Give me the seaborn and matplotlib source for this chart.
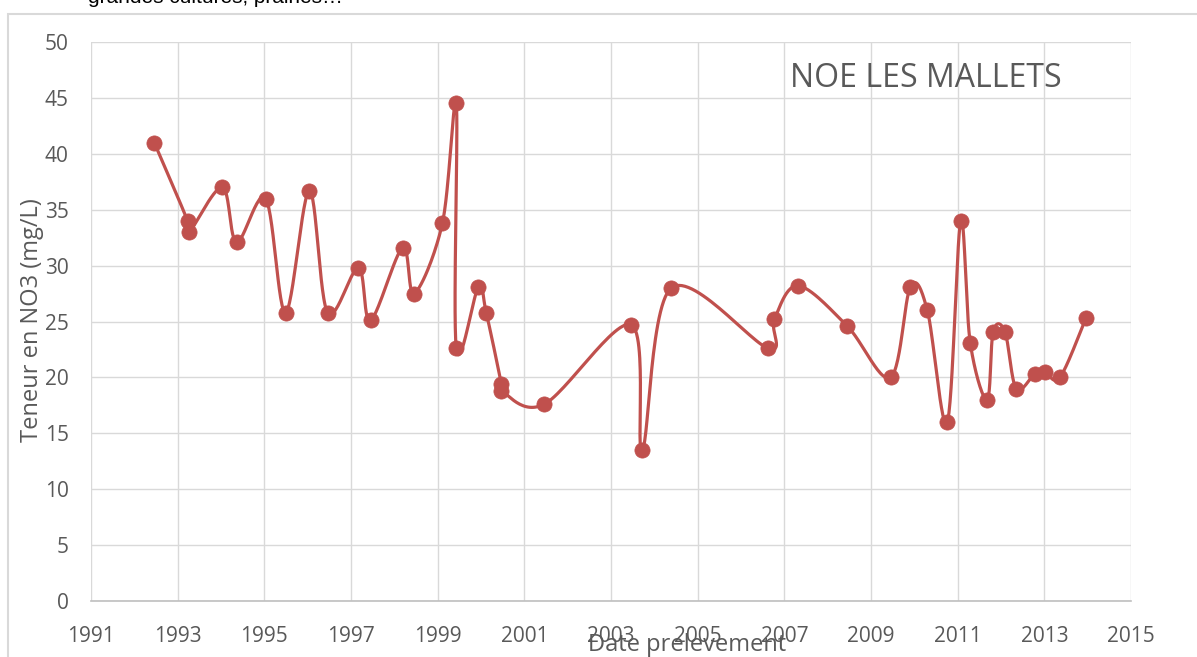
import numpy as np
import pandas as pd
import matplotlib
matplotlib.use('Agg')
import matplotlib.pyplot as plt
import seaborn as sns
from matplotlib.patches import Rectangle

# sampling dates (decimal years) and nitrate levels
dates = [1992.46, 1993.23, 1993.27, 1994.03, 1994.36, 1995.03, 1995.49, 1996.04,
         1996.46, 1997.17, 1997.45, 1998.19, 1998.46, 1999.11, 1999.43, 1999.43,
         1999.94, 2000.12, 2000.47, 2000.47, 2001.46, 2003.47, 2003.72, 2004.39,
         2006.63, 2006.77, 2007.32, 2008.45, 2009.45, 2009.91, 2010.30, 2010.76,
         2011.07, 2011.29, 2011.68, 2011.82, 2012.09, 2012.35, 2012.78, 2013.01,
         2013.36, 2013.96]
no3 = [41.0, 34.0, 33.0, 37.0, 32.1, 36.0, 25.8, 36.7,
       25.8, 29.8, 25.1, 31.6, 27.5, 33.8, 44.5, 22.6,
       28.1, 25.8, 19.4, 18.8, 17.6, 24.7, 13.5, 28.0,
       22.6, 25.2, 28.2, 24.6, 20.0, 28.1, 26.0, 16.0,
       34.0, 23.1, 18.0, 24.1, 24.1, 19.0, 20.3, 20.5,
       20.0, 25.3]
x_ticks = list(range(1991, 2016, 2))
y_ticks = list(range(0, 51, 5))

df = pd.DataFrame({'date': dates, 'no3': no3})

RED = '#c0504d'
GREY = '#595959'


def smooth_line(xs, ys, sx, sy, n=30):
    # excel-like smoothed scatter line: catmull-rom segments as cubic beziers,
    # worked out in pixel-ish space so both axes weigh the same
    p = np.column_stack([np.asarray(xs) * sx, np.asarray(ys) * sy])
    p = np.vstack([p[0], p, p[-1]])
    t = np.linspace(0, 1, n)[:, None]
    out = []
    for i in range(1, len(p) - 2):
        p0, p3 = p[i], p[i + 1]
        c1 = p0 + (p[i + 1] - p[i - 1]) / 6
        c2 = p3 - (p[i + 2] - p[i]) / 6
        seg = ((1 - t) ** 3) * p0 + 3 * ((1 - t) ** 2) * t * c1 + 3 * (1 - t) * t ** 2 * c2 + t ** 3 * p3
        out.append(seg)
    out = np.vstack(out)
    return pd.DataFrame({'date': out[:, 0] / sx, 'no3': out[:, 1] / sy})


sns.set_theme(style='white')
plt.rcParams['font.family'] = ['Open Sans', 'DejaVu Sans']

fig = plt.figure(figsize=(11.97, 6.57), dpi=100)
ax = fig.add_axes([91 / 1197, 1 - 601 / 657, 1040 / 1197, 559 / 657])

# outer chart frame (runs off the right and bottom edges)
fig.patches.append(Rectangle((8 / 1197, -0.1), 1.2, 1.1 - 14 / 657,
                             transform=fig.transFigure, fill=False,
                             edgecolor='#d9d9d9', linewidth=1.5))
fig.text(88 / 1197, 1 - 3 / 657, 'grandes cultures, prairies…', family='Liberation Sans',
         fontsize=15, color='black', va='baseline', ha='left')

curve = smooth_line(df['date'], df['no3'], 43.35, 11.18)
sns.lineplot(data=curve, x='date', y='no3', sort=False, estimator=None,
             color=RED, linewidth=2.3, ax=ax)
sns.scatterplot(data=df, x='date', y='no3', color=RED, s=120, edgecolor=RED,
                linewidth=0.5, ax=ax, zorder=3)

ax.set_xlim(1991, 2015)
ax.set_ylim(0, 50)
ax.set_xticks(x_ticks)
ax.set_yticks(y_ticks)
ax.grid(True, color='#d9d9d9', linewidth=1)
ax.tick_params(axis='both', length=0, labelsize=15, labelcolor=GREY)
ax.tick_params(axis='y', pad=16)
ax.tick_params(axis='x', pad=18)
for side in ['top', 'right', 'left']:
    ax.spines[side].set_visible(False)
ax.spines['bottom'].set_color('#bfbfbf')
ax.spines['bottom'].set_linewidth(1.2)

ax.set_xlabel('')
ax.set_ylabel('')
fig.text(687 / 1197, 1 - 645 / 657, 'Date prelevement', fontsize=17, color=GREY,
         ha='center', va='center')
fig.text(32 / 1197, 1 - 320 / 657, 'Teneur en NO3 (mg/L)', fontsize=17, color=GREY,
         ha='center', va='center', rotation=90)
ax.text((790 - 91) / 1040, 0.935, 'NOE LES MALLETS', transform=ax.transAxes, fontsize=23,
        color=GREY, ha='left', va='center')

fig.savefig('out.png', dpi=100)
